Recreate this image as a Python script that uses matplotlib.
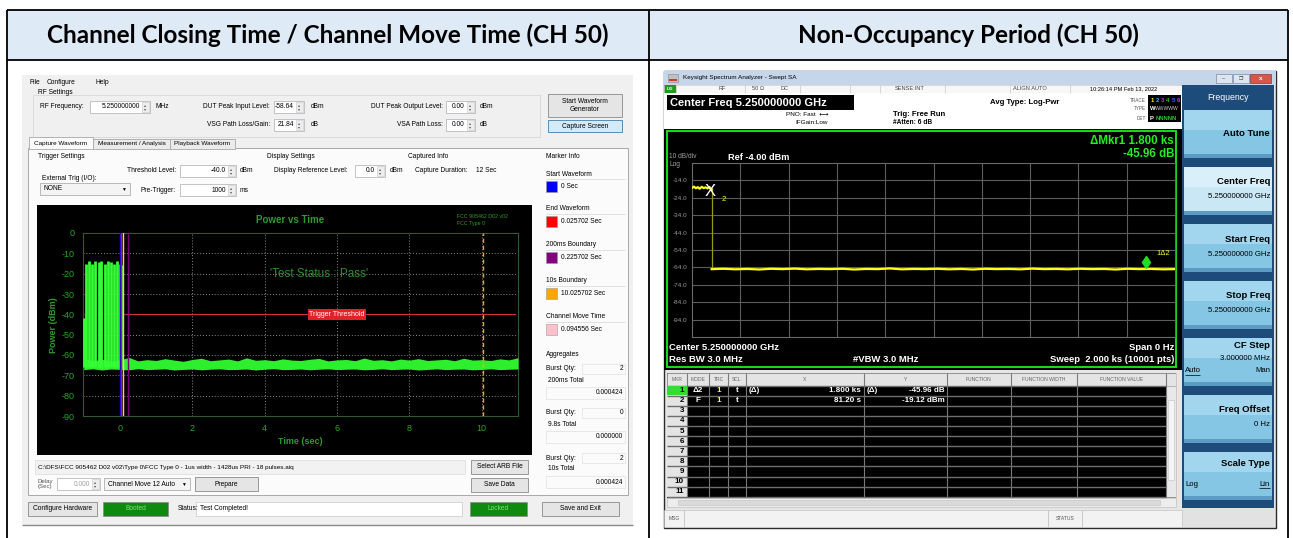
import numpy as np
import matplotlib
matplotlib.use('Agg')
import matplotlib.pyplot as plt
from matplotlib.patches import Rectangle

plt.rcParams['axes.unicode_minus'] = False

# ---------------- data ----------------
titles = ['Channel Closing Time / Channel Move Time (CH 50)', 'Non-Occupancy Period (CH 50)']

# left screenshot : settings
rf_freq = '5.250000000'
dut_in_level = '-58.64'
vsg_loss = '21.84'
dut_out_level = '0.00'
vsa_loss = '0.00'
threshold_db = -40.0
pre_trigger = '1000'
ref_level = '0.0'
capture_duration = '12 Sec'
tabs = ['Capture Waveform', 'Measurement / Analysis', 'Playback Waveform']
arb_path = r'C:\DFS\FCC 905462 D02 v02\Type 0\FCC Type 0 - 1us width - 1428us PRI - 18 pulses.aiq'

# left screenshot : power vs time
pvt_xticks = [0, 2, 4, 6, 8, 10]
pvt_yticks = [0, -10, -20, -30, -40, -50, -60, -70, -80, -90]
burst_t = [-0.99, -0.94, -0.86, -0.77, -0.69, -0.59, -0.51, -0.42, -0.34, -0.26, -0.17, -0.08, 0.0, 0.05]
burst_peak = [-42, -15, -14, -15, -14, -14.5, -14, -15, -14, -14.5, -15, -14, -15, -15.5]
noise_hi = [-61.5, -62.8, -62.1, -63.0, -62.4, -61.2, -62.9, -62.3, -62.7, -61.8, -62.5, -63.1, -62.2,
            -61.6, -62.8, -62.4, -62.0, -62.9, -61.4, -62.6, -62.3, -62.8, -61.9, -62.5, -62.7, -62.1,
            -61.7, -62.9, -62.4, -62.2, -62.8, -61.5, -62.6, -62.3, -62.9, -62.0, -62.5, -61.8, -62.7,
            -62.4, -62.1, -62.8, -61.6, -62.5, -62.3, -62.7, -61.9, -62.4, -61.3]
noise_lo = [-67.2, -66.8, -67.4, -66.9, -67.1, -67.3, -66.7, -67.2, -67.0, -66.8, -67.4, -67.1, -66.9,
            -67.3, -67.0, -66.8, -67.2, -67.1, -66.9, -67.4, -67.0, -66.7, -67.2, -67.1, -66.9, -67.3,
            -67.0, -66.8, -67.2, -67.0, -66.9, -67.3, -67.1, -66.8, -67.2, -67.0, -66.9, -67.4, -67.1,
            -66.8, -67.2, -67.0, -66.9, -67.3, -67.1, -66.8, -67.2, -67.0, -66.9]
noise_t = np.linspace(-1.0, 11.0, len(noise_hi))

marker_names = ['Start Waveform', 'End Waveform', '200ms Boundary', '10s Boundary', 'Channel Move Time']
marker_vals = [0.0, 0.025702, 0.225702, 10.025702, 0.094556]
marker_cols = ['#0000FF', '#FF0000', '#800080', '#FFA500', '#FFC0CB']
agg_names = ['200ms Total', '9.8s Total', '10s Total']
agg_qty = [2, 0, 2]
agg_total = [0.000424, 0.0, 0.000424]

# right screenshot : spectrum analyzer, zero span
sa_grid_db = [-14.0, -24.0, -34.0, -44.0, -54.0, -64.0, -74.0, -84.0, -94.0]
sa_pre_t = [0, 8, 16, 24, 32, 40, 48, 56, 64, 72, 81.2]
sa_pre_db = [-18.3, -17.6, -18.5, -17.9, -18.8, -17.7, -18.4, -18.0, -18.6, -17.8, -19.12]
sa_post_db = [-65.0, -64.8, -65.1, -64.9, -65.2, -64.8, -65.0, -64.7, -65.1, -64.9, -65.0, -64.8, -65.2,
              -64.9, -65.0, -64.6, -65.1, -64.9, -65.0, -64.8, -65.1, -64.9, -65.2, -64.8, -65.0, -64.9,
              -65.1, -64.7, -65.0, -64.9, -65.1, -64.8, -65.0, -64.9, -65.2, -64.8, -65.0, -64.9, -65.1, -65.0]
sa_post_t = np.linspace(81.2, 2000, len(sa_post_db))
mkr2_t, mkr2_db = 81.20, -19.12
delta_t, delta_db = 1800.0, -45.96

mkr_cols = ['MKR', 'MODE', 'TRC', 'SCL', 'X', 'Y', 'FUNCTION', 'FUNCTION WIDTH', 'FUNCTION VALUE']
mkr_rows = [['1', 'Δ2', '1', 't', '(Δ)', '1.800 ks', '(Δ)', '-45.96 dB'],
            ['2', 'F', '1', 't', '', '81.20 s', '', '-19.12 dBm']]
softkeys = [('Auto Tune', ''), ('Center Freq', '5.250000000 GHz'), ('Start Freq', '5.250000000 GHz'),
            ('Stop Freq', '5.250000000 GHz'), ('CF Step', '3.000000 MHz'), ('Freq Offset', '0 Hz'),
            ('Scale Type', '')]

# ---------------- canvas ----------------
W, H = 1293, 538
UI = ['Liberation Sans', 'DejaVu Sans']
HD = ['Lato', 'DejaVu Sans']

fig = plt.figure(figsize=(W / 100, H / 100), dpi=100)
bg = fig.add_axes([0, 0, 1, 1])
bg.set_xlim(0, W)
bg.set_ylim(H, 0)
bg.axis('off')


def px_axes(x0, y0, x1, y1):
    return fig.add_axes([x0 / W, 1 - y1 / H, (x1 - x0) / W, (y1 - y0) / H])


def box(x0, y0, x1, y1, fc='none', ec='none', lw=0.7, z=2):
    bg.add_patch(Rectangle((x0, y0), x1 - x0, y1 - y0, facecolor=fc, edgecolor=ec, linewidth=lw, zorder=z))


def txt(x, y, s, size=4.8, color='black', ha='left', va='center', weight='normal', family=UI, z=6, **kw):
    bg.text(x, y, s, fontsize=size, color=color, ha=ha, va=va, fontweight=weight, family=family,
            zorder=z, **kw)


def line(xs, ys, color, lw=0.8, z=3, ls='-'):
    bg.plot(xs, ys, color=color, lw=lw, zorder=z, ls=ls, solid_capstyle='butt')


def spin(x0, x1, y, val, color='black'):
    box(x0, y - 6, x1, y + 6, fc='white', ec='#ABADB3', lw=0.5)
    box(x1 - 8, y - 5, x1 - 1, y + 5, fc='#EDEDED', ec='#C8C8C8', lw=0.4)
    txt(x1 - 4.5, y - 2.3, '▴', size=3, ha='center', color='#555555')
    txt(x1 - 4.5, y + 2.5, '▾', size=3, ha='center', color='#555555')
    txt(x1 - 10, y, val, ha='right', color=color)


def button(x0, y0, x1, y1, label, fc='#E5E5E5', ec='#8A8A8A'):
    box(x0, y0, x1, y1, fc=fc, ec=ec, lw=0.6)
    txt((x0 + x1) / 2, (y0 + y1) / 2, label, ha='center', linespacing=1.1)


def combo(x0, x1, y, val):
    box(x0, y - 6, x1, y + 6, fc='#F4F4F4', ec='#A0A0A0', lw=0.5)
    txt(x0 + 4, y, val)
    txt(x1 - 7, y, '▼', size=3.5, ha='center')


# ---------------- table frame ----------------
box(7, 10, 1288, 60, fc='#DEEAF6', z=1)
for x in (7, 649, 1288):
    line([x, x], [10, 545], 'black', lw=1.3, z=30)
for y in (10, 60):
    line([7, 1288], [y, y], 'black', lw=1.3, z=30)
txt(328, 35, titles[0], size=17.5, weight='bold', family=HD, ha='center')
txt(968, 35, titles[1], size=17.5, weight='bold', family=HD, ha='center')

# ---------------- left screenshot ----------------
box(22, 75, 633, 525, fc='#F0F0F0', z=1)
line([22, 633], [525, 525], '#8A8A8A', lw=1)
for x, s in [(30, 'File'), (47, 'Configure'), (96, 'Help')]:
    txt(x, 83, s)
txt(38, 92, 'RF Settings')
box(33, 95, 540, 137, ec='#D8D8D8', lw=0.6)
txt(40, 107, 'RF Frequency:')
spin(90, 150, 107, rf_freq)
txt(155, 107, 'MHz')
txt(270, 107, 'DUT Peak Input Level:', ha='right')
spin(274, 304, 107, dut_in_level)
txt(311, 107, 'dBm')
txt(270, 125, 'VSG Path Loss/Gain:', ha='right')
spin(274, 304, 125, vsg_loss)
txt(311, 125, 'dB')
txt(443, 107, 'DUT Peak Output Level:', ha='right')
spin(446, 475, 107, dut_out_level)
txt(480, 107, 'dBm')
txt(443, 125, 'VSA Path Loss:', ha='right')
spin(446, 475, 125, vsa_loss)
txt(480, 125, 'dB')
button(548, 94, 622, 117, 'Start Waveform\nGenerator')
button(548, 120, 622, 132, 'Capture Screen', fc='#D5EAF8', ec='#3C7FB1')

# tab panel and tabs
box(28, 148, 628, 495, fc='#FBFBFB', ec='#A8A8A8', lw=0.7)
tab_x = [29, 93, 170, 235]
for i, s in enumerate(tabs):
    sel = i == 0
    box(tab_x[i], 137 if sel else 139, tab_x[i + 1], 149, fc='#FBFBFB' if sel else '#EBEBEB',
        ec='#A8A8A8', lw=0.6, z=3)
    txt((tab_x[i] + tab_x[i + 1]) / 2, 143, s, ha='center', size=4.6)

txt(38, 157, 'Trigger Settings')
txt(176, 171, 'Threshold Level:', ha='right')
spin(180, 236, 171, f'{threshold_db:.1f}')
txt(240, 171, 'dBm')
txt(42, 178, 'External Trig (I/O):')
combo(40, 130, 189, 'NONE')
txt(176, 190, 'Pre-Trigger:', ha='right')
spin(180, 236, 190, pre_trigger)
txt(240, 190, 'ms')
txt(267, 157, 'Display Settings')
txt(274, 171, 'Display Reference Level:')
spin(355, 385, 171, ref_level)
txt(390, 171, 'dBm')
txt(408, 157, 'Captured Info')
txt(415, 171, 'Capture Duration:')
txt(476, 171, capture_duration)

# marker info column
txt(546, 157, 'Marker Info')
mk_y = [174, 209, 245, 281, 317]
for name, val, col, y in zip(marker_names, marker_vals, marker_cols, mk_y):
    txt(546, y, name)
    line([546, 625], [y + 5, y + 5], '#DCDCDC', lw=0.6)
    box(546, y + 7, 557, y + 18, fc=col, ec='#9A9A9A', lw=0.4, z=4)
    label = '0 Sec' if val == 0 else f'{val:.6f} Sec'
    txt(561, y + 12.5, label)
txt(546, 355, 'Aggregates')
agg_y = [369, 413, 458]
for name, q, tot, y in zip(agg_names, agg_qty, agg_total, agg_y):
    txt(546, y, 'Burst Qty:')
    box(582, y - 5, 625, y + 5, ec='#E0E0E0', lw=0.5)
    txt(623, y, str(q), ha='right')
    txt(548, y + 11, name)
    box(546, y + 18, 625, y + 30, ec='#E0E0E0', lw=0.5)
    txt(623, y + 24, f'{tot:.6f}', ha='right')

# power vs time plot
box(37, 205, 532, 455, fc='black', z=2)
g_txt = '#2E9B2E'
txt(290, 220, 'Power vs Time', size=7, color=g_txt, weight='bold', ha='center')
txt(457, 216, 'FCC 905462 D02 v02', size=3.8, color=g_txt)
txt(457, 223, 'FCC Type 0', size=3.8, color=g_txt)
txt(300, 441, 'Time (sec)', size=6.5, color=g_txt, weight='bold', ha='center')
txt(53, 325, 'Power (dBm)', size=6.5, color=g_txt, weight='bold', ha='center', rotation=90)

axL = px_axes(83, 233, 518, 416)
axL.set_facecolor('none')
axL.set_xlim(-1.02, 11.0)
axL.set_ylim(-90, 0)
axL.set_xticks(pvt_xticks)
axL.set_yticks(pvt_yticks)
axL.tick_params(length=0, labelsize=6.5, labelcolor='#28A428', pad=6)
for lab in axL.get_xticklabels() + axL.get_yticklabels():
    lab.set_family(UI)
for sp in axL.spines.values():
    sp.set_color('#2F5A2F')
axL.grid(True, color='#8C8C8C', ls=(0, (1, 2)), lw=0.7)
axL.fill_between(noise_t, noise_lo, noise_hi, color='#2EEF2E', lw=0, zorder=3)
axL.vlines(burst_t, -66, burst_peak, color='#33FF33', lw=2.0, zorder=3)
axL.hlines(threshold_db, 0.14, 10.92, color='#D0303A', lw=0.8, zorder=4)
for v, c in zip(marker_vals, marker_cols):
    axL.axvline(v, color=c, lw=1.0, ls=(0, (3, 2)) if v > 1 else '-', zorder=5)
axL.text(6.0, threshold_db, 'Trigger Threshold', fontsize=5, color='white', ha='center', va='center',
         family=UI, zorder=6, bbox=dict(boxstyle='square,pad=0.25', fc='#E42127', ec='none'))
axL.text(5.5, -20, "'Test Status : Pass'", fontsize=8.5, color='#2C8F2C', ha='center', va='center',
         family=UI, zorder=6)

# bottom rows
box(35, 460, 465, 474, fc='#F2F2F2', ec='#DADADA', lw=0.5)
txt(38, 467, arb_path, size=4.6)
button(471, 460, 528, 474, 'Select ARB File')
txt(38, 484, 'Delay\n(Sec)', size=4.4, color='#555555', linespacing=1.0)
spin(57, 100, 484, '0.000', color='#A0A0A0')
combo(104, 190, 484, 'Channel Move 12 Auto')
button(195, 477, 258, 491, 'Prepare')
button(471, 478, 528, 492, 'Save Data')
button(28, 502, 97, 516, 'Configure Hardware')
box(103, 502, 168, 516, fc='#0E8A0E', ec='#8A8A8A', lw=0.5)
txt(135.5, 509, 'Booted', ha='center', color='#7FE07F')
txt(178, 509, 'Status:')
box(196, 502, 462, 516, fc='white', ec='#C8C8C8', lw=0.5)
txt(200, 509, 'Test Completed!')
box(470, 502, 527, 516, fc='#0E8A0E', ec='#8A8A8A', lw=0.5)
txt(498.5, 509, 'Locked', ha='center', color='#7FE07F')
button(542, 502, 619, 516, 'Save and Exit')

# ---------------- right screenshot ----------------
box(664, 71, 1276, 528, fc='#E6E6E6', ec='#2A2A2A', lw=1.0, z=1)
box(664, 71, 1276, 85, fc='#C6D6EA', z=2)
box(668, 74, 678, 82, fc='#C0C0C0', ec='#8A8A8A', lw=0.4)
line([669, 677], [80, 80], '#D02020', lw=1.2)
txt(683, 78, 'Keysight Spectrum Analyzer - Swept SA', size=4.6)
box(1216, 74, 1232, 83, fc='#DCE5F0', ec='#7A8CA8', lw=0.5, z=3)
box(1233, 74, 1249, 83, fc='#DCE5F0', ec='#7A8CA8', lw=0.5, z=3)
box(1250, 74, 1271, 83, fc='#D8574A', ec='#8A3A30', lw=0.5, z=3)
txt(1224, 78.5, '–', size=4, ha='center', color='#333333')
txt(1241, 78.5, '❐', size=3.5, ha='center', color='#333333')
txt(1260.5, 78.5, 'x', size=4.5, ha='center', color='white', weight='bold')

# status row
box(664, 85, 1182, 93, fc='#F7F7F7', ec='#C8C8C8', lw=0.4)
box(665, 85, 676, 93, fc='#1C9C1C')
txt(667, 89, 'LXI', size=3, color='white', weight='bold')
for x in (676, 745, 800, 850, 880, 945, 1010, 1070):
    line([x, x], [85, 93], '#C8C8C8', lw=0.5)
for x, s in [(722, 'RF'), (758, '50 Ω'), (785, 'DC'), (910, 'SENSE:INT'), (1030, 'ALIGN AUTO'),
             (1124, '10:26:14 PM Feb 13, 2022')]:
    txt(x, 89, s, size=4.1, ha='center', color='#444444' if x < 1100 else 'black')

# info area
box(664, 93, 1182, 129, fc='white', z=2)
box(667, 95, 854, 110, fc='black', z=3)
txt(670, 102.5, 'Center Freq 5.250000000 GHz', size=8, color='white', weight='bold')
txt(828, 114, 'PNO: Fast  ⟷', size=4.6, ha='right')
txt(828, 123, 'IFGain:Low', size=4.6, ha='right')
txt(893, 114, 'Trig: Free Run', size=5.6, weight='bold')
txt(893, 123, '#Atten: 6 dB', size=4.8, weight='bold')
txt(990, 102, 'Avg Type: Log-Pwr', size=5.6, weight='bold')
txt(1146, 100, 'TRACE', size=3.3, ha='right', color='#555555')
txt(1146, 109, 'TYPE', size=3.3, ha='right', color='#555555')
txt(1146, 118, 'DET', size=3.3, ha='right', color='#555555')
box(1148, 95, 1181, 122, fc='black', z=3)
trace_cols = ['#FFFF00', '#00D0FF', '#FF00FF', '#20D020', '#3A5BFF', '#C040FF']
for i, c in enumerate(trace_cols):
    txt(1152 + i * 5.3, 100, str(i + 1), size=4.2, color=c, weight='bold', ha='center')
txt(1149.5, 109, 'W', size=4.2, color='white', weight='bold')
txt(1155, 109, 'WWWWW', size=3.6, color='#CCCCCC')
txt(1149.5, 118, 'P', size=4.2, color='white', weight='bold')
txt(1156, 118, 'NNNNN', size=4.2, color='#20D020', weight='bold')

# spectrum display
box(664, 129, 1182, 370, fc='black', z=2)
box(667, 131, 1176, 367, ec='#16E016', lw=1.4, z=4)
txt(669, 157, '10 dB/div', size=4.8, color='#A0A0A0')
txt(669, 165, 'Log', size=4.8, color='#A0A0A0')
txt(728, 157, 'Ref -4.00 dBm', size=6.6, color='white', weight='bold')
txt(1174, 141, 'ΔMkr1 1.800 ks', size=8.3, color='#22EE22', weight='bold', ha='right')
txt(1174, 154, f'{delta_db:.2f} dB', size=8.3, color='#22EE22', weight='bold', ha='right')
txt(669, 347, 'Center 5.250000000 GHz', size=6.8, color='white', weight='bold')
txt(1174, 347, 'Span 0 Hz', size=6.8, color='white', weight='bold', ha='right')
txt(669, 360, 'Res BW 3.0 MHz', size=6.8, color='white', weight='bold')
txt(853, 360, '#VBW 3.0 MHz', size=6.8, color='white', weight='bold')
txt(1174, 360, 'Sweep  2.000 ks (10001 pts)', size=6.8, color='white', weight='bold', ha='right')

axR = px_axes(692, 163, 1175, 337)
axR.set_facecolor('none')
axR.set_xlim(0, 2000)
axR.set_ylim(-104, -4)
axR.set_xticks(np.arange(200, 2000, 200))
axR.set_xticklabels([])
axR.set_yticks(sa_grid_db)
axR.set_yticklabels([f'{v:.1f}' for v in sa_grid_db])
axR.tick_params(length=0, labelsize=4.6, labelcolor='#9A9A9A', pad=3)
for lab in axR.get_yticklabels():
    lab.set_family(UI)
for sp in axR.spines.values():
    sp.set_color('#6A6A6A')
axR.grid(True, color='#5C5C5C', lw=0.8)
axR.plot([mkr2_t, mkr2_t], [mkr2_db, sa_post_db[0]], color='#9A9A10', lw=0.9, zorder=3)
axR.plot(sa_pre_t, sa_pre_db, color='#FFFF20', lw=1.6, zorder=4)
axR.plot(sa_post_t, sa_post_db, color='#FFFF20', lw=1.6, zorder=4)
axR.text(mkr2_t - 5, mkr2_db - 1.5, 'X', fontsize=12, color='white', ha='center', va='center',
         family=UI, zorder=6)
axR.text(mkr2_t + 40, mkr2_db - 6, '2', fontsize=5.5, color='#FFFF20', ha='left', va='center',
         family=UI, zorder=6)
axR.plot([mkr2_t + delta_t], [mkr2_db + delta_db + 4.3], marker='d', ms=6, color='#22DD22', zorder=6)
axR.text(mkr2_t + delta_t + 40, mkr2_db + delta_db + 9, '1Δ2', fontsize=5.5, color='#FFFF20',
         ha='left', va='center', family=UI, zorder=6)

# marker table
col_x = [667, 686.7, 709.3, 728.3, 745.7, 864, 947.3, 1010.7, 1076.7, 1166, 1176]
row_h = 10.1
top = 385.6
box(667, 373, 1176, 498, fc='black', z=2)
box(667, 373, 1176, top, fc='#E4E4E4', ec='#B0B0B0', lw=0.4, z=3)
box(667, top, 686.7, top + 11 * row_h, fc='#E4E4E4', z=3)
box(1166, top, 1176, top + 11 * row_h, fc='#E8E8E8', ec='#B0B0B0', lw=0.4, z=3)
box(1168, 400, 1174, 480, fc='#F4F4F4', ec='#C0C0C0', lw=0.4, z=4)
for i, s in enumerate(mkr_cols):
    xc = (col_x[i] + col_x[i + 1]) / 2
    txt(xc, 379.5, s, size=3.6, ha='center', color='#666666')
for x in col_x[1:-1]:
    line([x, x], [373, top + 11 * row_h], '#7A7A7A', lw=0.8, z=4)
for r in range(12):
    y = top + r * row_h
    line([667, 1166], [y, y], '#6E6E6E', lw=1.0, z=4)
box(667, top + 0.6, 686.7, top + row_h - 0.6, fc='#33DD33', z=5)
for r in range(11):
    txt(684, top + (r + 0.5) * row_h, str(r + 1), size=5.8, weight='bold', ha='right', z=7)
for r, row in enumerate(mkr_rows):
    y = top + (r + 0.5) * row_h
    txt((col_x[1] + col_x[2]) / 2, y, row[1], size=5.8, color='white', weight='bold', ha='center')
    txt((col_x[2] + col_x[3]) / 2, y, row[2], size=5.8, color='#FFFF20', weight='bold', ha='center')
    txt((col_x[3] + col_x[4]) / 2, y, row[3], size=5.8, color='white', weight='bold', ha='center')
    txt(col_x[4] + 3, y, row[4], size=5.8, color='white', weight='bold')
    txt(col_x[5] - 3, y, row[5], size=5.8, color='white', weight='bold', ha='right')
    txt(col_x[5] + 3, y, row[6], size=5.8, color='white', weight='bold')
    txt(col_x[6] - 3, y, row[7], size=5.8, color='white', weight='bold', ha='right')
box(667, 498, 1176, 507, fc='#EDEDED', ec='#B8B8B8', lw=0.4, z=3)
box(678, 500, 1160, 505, fc='#DADADA', ec='#C0C0C0', lw=0.4, z=4)
box(664, 510, 1182, 527, fc='#F2F2F2', ec='#B8B8B8', lw=0.4, z=3)
line([684, 684], [510, 527], '#B8B8B8', lw=0.5, z=4)
line([1048, 1048], [510, 527], '#B8B8B8', lw=0.5, z=4)
line([1082, 1082], [510, 527], '#B8B8B8', lw=0.5, z=4)
txt(674, 518.5, 'MSG', size=3.6, ha='center', color='#555555')
txt(1065, 518.5, 'STATUS', size=3.6, ha='center', color='#555555')

# softkeys
box(1182, 85, 1274, 508, fc='#1D4C7A', z=2)
box(1182, 508, 1274, 527, fc='#E2E2E2', z=2)
txt(1228, 97, 'Frequency', size=6.3, color='white', ha='center')
sk_top = [110, 167, 224, 281, 338, 395, 452]
for (title, sub), y0 in zip(softkeys, sk_top):
    sel = title == 'Center Freq'
    box(1184, y0, 1272, y0 + 48, fc='#C9E7F5' if sel else '#84C6E4', z=3)
    box(1184, y0, 1272, y0 + 20, fc='#D9EFF9' if sel else '#A2D6EE', z=3)
    box(1184, y0 + 44, 1272, y0 + 48, fc='#5C9CC4', z=3)
    if title == 'Auto Tune':
        txt(1270, y0 + 23, title, size=6.8, weight='bold', ha='right')
    elif title == 'CF Step':
        txt(1270, y0 + 8, title, size=6.8, weight='bold', ha='right')
        txt(1270, y0 + 20, sub, size=5.6, ha='right')
        txt(1185, y0 + 33, 'Auto', size=5.6)
        line([1185, 1200], [y0 + 37, y0 + 37], 'black', lw=0.5, z=7)
        txt(1270, y0 + 33, 'Man', size=5.6, ha='right')
    elif title == 'Scale Type':
        txt(1270, y0 + 11, title, size=6.8, weight='bold', ha='right')
        txt(1185, y0 + 32, 'Log', size=5.6)
        txt(1270, y0 + 32, 'Lin', size=5.6, ha='right')
        line([1259, 1270], [y0 + 36, y0 + 36], 'black', lw=0.5, z=7)
    else:
        txt(1270, y0 + 15, title, size=6.8, weight='bold', ha='right')
        txt(1270, y0 + 30, sub, size=5.6, ha='right')

fig.savefig('out.png', dpi=100)
